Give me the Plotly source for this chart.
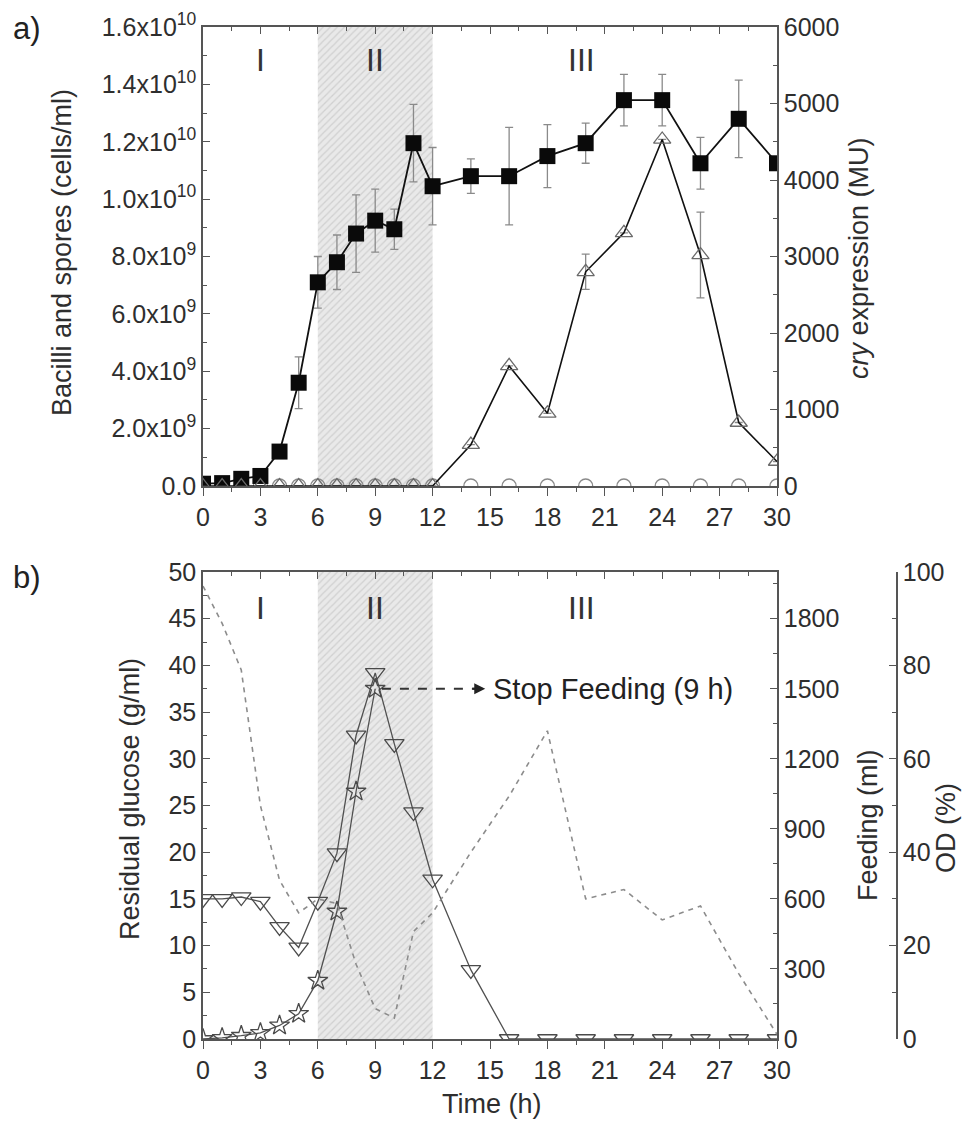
import plotly.graph_objects as go

# ---------------- data ----------------
time_h = [0, 1, 2, 3, 4, 5, 6, 7, 8, 9, 10, 11, 12, 14, 16, 18, 20, 22, 24, 26, 28, 30]

# panel a
bacilli = [0.08e9, 0.1e9, 0.25e9, 0.35e9, 1.2e9, 3.6e9, 7.1e9, 7.8e9, 8.8e9, 9.25e9, 8.95e9,
           11.95e9, 10.45e9, 10.8e9, 10.8e9, 11.5e9, 11.95e9, 13.45e9, 13.45e9, 11.25e9, 12.8e9, 11.25e9]
bacilli_err = [0, 0, 0, 0, 0, 0.9e9, 0.9e9, 0.95e9, 1.35e9, 1.1e9, 0.7e9, 1.35e9, 1.35e9, 0.6e9,
               1.7e9, 1.1e9, 0.7e9, 0.9e9, 0.9e9, 0.9e9, 1.35e9, 0]
spores_zero = [0] * 22
cry_expr = [0, 0, 0, 0, 0, 0, 0, 0, 0, 0, 0, 0, 0, 540, 1570, 950, 2800, 3310, 4530, 3020, 830, 320]
cry_err = [0, 0, 0, 0, 0, 0, 0, 0, 0, 0, 0, 0, 0, 0, 0, 0, 230, 0, 0, 560, 0, 0]

# panel b
glucose = [15, 15, 15.2, 14.7, 12, 9.8, 14.7, 19.9, 32.5, 39.2, 31.6, 24.3, 17.1, 7.4,
           0, 0, 0, 0, 0, 0, 0, 0]
feed_time = [0, 1, 2, 3, 4, 5, 6, 7, 8, 9]
feeding = [0, 5, 14, 26, 58, 108, 250, 546, 1060, 1500]
od_time = [0, 1, 2, 3, 4, 5, 6, 7, 8, 9, 10, 11, 12, 14, 16, 18, 20, 22, 24, 26, 28, 30]
od = [97, 89, 79, 50, 34, 27, 30, 29, 16, 6.5, 4.5, 23, 27, 40, 52, 66, 30, 32, 25.5, 28.5, 14, 1]

phase_bounds = [6, 12]
phase_labels = ["I", "II", "III"]
phase_label_x = [3, 9, 19.8]
stop_feed_time = 9

x_ticks = list(range(0, 31, 3))
left_a_vals = [0, 2e9, 4e9, 6e9, 8e9, 1.0e10, 1.2e10, 1.4e10, 1.6e10]
left_a_text = ["0.0", "2.0x10<sup>9</sup>", "4.0x10<sup>9</sup>", "6.0x10<sup>9</sup>",
               "8.0x10<sup>9</sup>", "1.0x10<sup>10</sup>", "1.2x10<sup>10</sup>",
               "1.4x10<sup>10</sup>", "1.6x10<sup>10</sup>"]

# ---------------- layout helpers ----------------
OFF = 8                     # page body margin
W, H = 954, 1112            # fits the 970x1128 window without scrollbars
FONT = "Liberation Sans, Arial, sans-serif"
TXT = "#2e2e2e"
AX = "#555555"
TICK_SIZE = 25
TITLE_SIZE = 27


def px(xp):
    return (xp - OFF) / W


def py(yp):
    return 1 - (yp - OFF) / H


XD = [px(203), px(777)]
YA = [py(486), py(27)]
YB = [py(1039), py(572)]


def axis(**kw):
    d = dict(showline=True, linecolor=AX, linewidth=1.5, showgrid=False, zeroline=False,
             automargin=False,
             ticks="inside", ticklen=7, tickwidth=1.3, tickcolor=AX,
             tickfont=dict(family=FONT, size=TICK_SIZE, color=TXT))
    d.update(kw)
    return d


fig = go.Figure()

# ---- panel a ----
ya_max = 1.6e10
fig.add_trace(go.Scatter(
    x=[phase_bounds[0], phase_bounds[1], phase_bounds[1], phase_bounds[0], phase_bounds[0]],
    y=[0, 0, ya_max, ya_max, 0], fill="toself", mode="none",
    fillcolor="#e4e4e4",
    fillpattern=dict(shape="/", fgcolor="#b8b8b8", bgcolor="#e9e9e9", size=5, solidity=0.25),
    xaxis="x", yaxis="y", showlegend=False, hoverinfo="skip"))
fig.add_trace(go.Scatter(
    x=time_h, y=spores_zero, mode="markers", xaxis="x", yaxis="y",
    marker=dict(symbol="circle-open", size=14, color="#8a8a8a", line=dict(width=1.3)),
    showlegend=False))
fig.add_trace(go.Scatter(
    x=time_h, y=cry_expr, mode="lines+markers", xaxis="x", yaxis="y2",
    line=dict(color="#111111", width=1.6),
    marker=dict(symbol="triangle-up-open", size=15, color="#6a6a6a", line=dict(width=1.3)),
    error_y=dict(type="data", array=cry_err, color="#8a8a8a", thickness=1.3, width=4),
    showlegend=False))
fig.add_trace(go.Scatter(
    x=time_h, y=bacilli, mode="lines+markers", xaxis="x", yaxis="y",
    line=dict(color="#111111", width=1.8),
    marker=dict(symbol="square", size=16, color="#0a0a0a"),
    error_y=dict(type="data", array=bacilli_err, color="#8a8a8a", thickness=1.3, width=4),
    showlegend=False))
fig.add_trace(go.Scatter(x=time_h[:1], y=spores_zero[:1], xaxis="x3", yaxis="y", mode="markers",
                         marker=dict(opacity=0), showlegend=False, hoverinfo="skip"))

# ---- panel b ----
yb_max = 50
fig.add_trace(go.Scatter(
    x=[phase_bounds[0], phase_bounds[1], phase_bounds[1], phase_bounds[0], phase_bounds[0]],
    y=[0, 0, yb_max, yb_max, 0], fill="toself", mode="none",
    fillcolor="#e4e4e4",
    fillpattern=dict(shape="/", fgcolor="#b8b8b8", bgcolor="#e9e9e9", size=5, solidity=0.25),
    xaxis="x2", yaxis="y3", showlegend=False, hoverinfo="skip"))
fig.add_trace(go.Scatter(
    x=time_h, y=glucose, mode="lines+markers", xaxis="x2", yaxis="y3",
    line=dict(color="#505050", width=1.3),
    marker=dict(symbol="triangle-down-open", size=17, color="#4a4a4a", line=dict(width=1.3)),
    showlegend=False))
fig.add_trace(go.Scatter(
    x=feed_time, y=feeding, mode="lines+markers", xaxis="x2", yaxis="y4",
    line=dict(color="#505050", width=1.3),
    marker=dict(symbol="star-open", size=15, color="#4a4a4a", line=dict(width=1.3)),
    showlegend=False))
fig.add_trace(go.Scatter(
    x=od_time, y=od, mode="lines", xaxis="x2", yaxis="y5",
    line=dict(color="#8c8c8c", width=1.6, dash="5px,5px"),
    showlegend=False))
fig.add_trace(go.Scatter(x=time_h[:1], y=glucose[-1:], xaxis="x4", yaxis="y3", mode="markers",
                         marker=dict(opacity=0), showlegend=False, hoverinfo="skip"))

minor_out = dict(ticks="outside", dtick=1.5, ticklen=4, tickcolor=AX)
minor_in_x = dict(ticks="inside", dtick=1.5, ticklen=4, tickcolor=AX)

fig.update_layout(
    width=W, height=H, margin=dict(l=0, r=0, t=0, b=0),
    paper_bgcolor="white", plot_bgcolor="white",
    font=dict(family=FONT, color=TXT),
    xaxis=axis(domain=XD, anchor="y", range=[0, 30], tickvals=x_ticks, ticks="outside",
               ticklen=8, minor=minor_out),
    xaxis3=axis(overlaying="x", side="top", anchor="y", range=[0, 30], tickvals=x_ticks,
                showticklabels=False, minor=minor_in_x),
    yaxis=axis(domain=YA, anchor="x", range=[0, ya_max], tickvals=left_a_vals, ticktext=left_a_text,
               minor=dict(ticks="inside", dtick=1e9, ticklen=4, tickcolor=AX)),
    yaxis2=axis(overlaying="y", side="right", anchor="x", range=[0, 6000], dtick=1000,
                minor=dict(ticks="inside", dtick=500, ticklen=4, tickcolor=AX)),
    xaxis2=axis(domain=XD, anchor="y3", range=[0, 30], tickvals=x_ticks, ticks="outside",
                ticklen=8, minor=minor_out),
    xaxis4=axis(overlaying="x2", side="top", anchor="y3", range=[0, 30], tickvals=x_ticks,
                showticklabels=False, minor=minor_in_x),
    yaxis3=axis(domain=YB, anchor="x2", range=[0, yb_max], dtick=5,
                minor=dict(ticks="inside", dtick=2.5, ticklen=4, tickcolor=AX)),
    yaxis4=axis(overlaying="y3", side="right", anchor="x2", range=[0, 2000],
                tickvals=[0, 300, 600, 900, 1200, 1500, 1800],
                minor=dict(ticks="inside", dtick=150, ticklen=4, tickcolor=AX)),
    yaxis5=axis(overlaying="y3", side="right", anchor="free", position=px(897), range=[0, 100],
                dtick=20, minor=dict(ticks="inside", dtick=10, ticklen=4, tickcolor=AX)),
)

C = dict(xanchor="center", yanchor="middle", showarrow=False)
ann = []
# phase labels
for lab, xv in zip(phase_labels, phase_label_x):
    ann.append(dict(x=xv, y=py(60), xref="x", yref="paper", text=lab,
                    font=dict(size=32, color="#333333", family=FONT), **C))
    ann.append(dict(x=xv, y=py(608), xref="x2", yref="paper", text=lab,
                    font=dict(size=32, color="#333333", family=FONT), **C))
# axis titles
tf = dict(size=TITLE_SIZE, color=TXT, family=FONT)
ann += [
    dict(x=px(62), y=py(253), xref="paper", yref="paper", text="Bacilli and spores (cells/ml)",
         textangle=-90, font=tf, **C),
    dict(x=px(859), y=py(258), xref="paper", yref="paper", text="<i>cry</i> expression (MU)",
         textangle=-90, font=tf, **C),
    dict(x=px(130), y=py(799), xref="paper", yref="paper", text="Residual glucose (g/ml)",
         textangle=-90, font=tf, **C),
    dict(x=px(868), y=py(825), xref="paper", yref="paper", text="Feeding (ml)",
         textangle=-90, font=tf, **C),
    dict(x=px(946), y=py(828), xref="paper", yref="paper", text="OD (%)",
         textangle=-90, font=tf, **C),
    dict(x=px(492), y=py(1104), xref="paper", yref="paper", text="Time (h)", font=tf, **C),
    dict(x=px(27), y=py(28), xref="paper", yref="paper", text="a)",
         font=dict(size=31, color="#222222", family=FONT), **C),
    dict(x=px(27), y=py(577), xref="paper", yref="paper", text="b)",
         font=dict(size=31, color="#222222", family=FONT), **C),
]
# stop feeding annotation
stop_y = feeding[feed_time.index(stop_feed_time)] / 2000 * yb_max
ann.append(dict(x=stop_feed_time + 5.75, y=stop_y, xref="x2", yref="y3", ax=stop_feed_time + 5.0,
                ay=stop_y, axref="x2", ayref="y3", text="", showarrow=True, arrowhead=2,
                arrowsize=1.1, arrowwidth=2, arrowcolor="#222222"))
ann.append(dict(x=stop_feed_time + 6.05, y=stop_y, xref="x2", yref="y3", text="Stop Feeding (9 h)",
                xanchor="left", yanchor="middle", showarrow=False,
                font=dict(size=29, color="#222222", family=FONT)))
fig.update_layout(annotations=ann)
fig.add_shape(type="line", xref="x2", yref="y3", x0=stop_feed_time + 0.35, x1=stop_feed_time + 5.5,
              y0=stop_y, y1=stop_y, line=dict(color="#333333", width=2, dash="dash"))

fig.write_html("out.html")
